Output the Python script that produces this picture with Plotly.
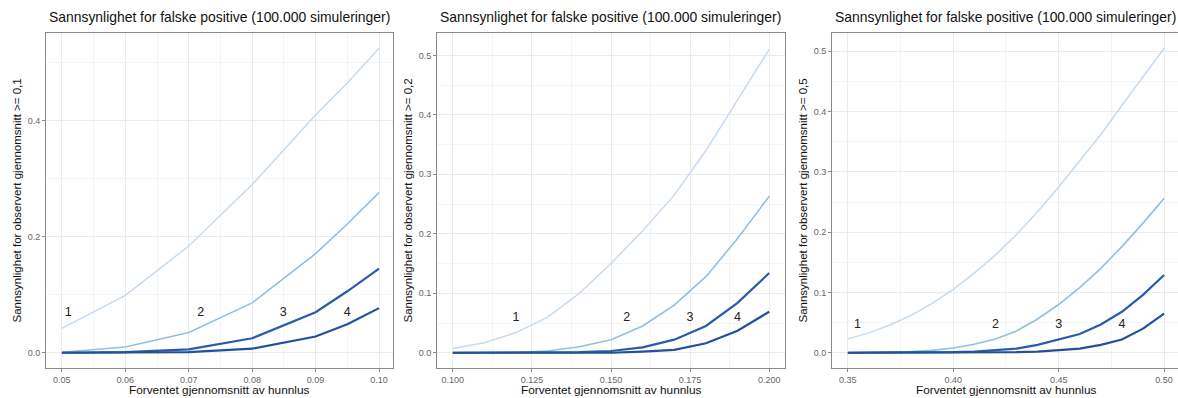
import plotly.graph_objects as go

# ---------------- data ----------------
x_p1 = [0.05, 0.06, 0.07, 0.08, 0.09, 0.095, 0.10]
p1_s1 = [0.042, 0.099, 0.184, 0.290, 0.410, 0.465, 0.525]
p1_s2 = [0.001, 0.010, 0.035, 0.086, 0.171, 0.222, 0.276]
p1_s3 = [0.0, 0.001, 0.006, 0.025, 0.070, 0.106, 0.145]
p1_s4 = [0.0, 0.0, 0.001, 0.007, 0.028, 0.049, 0.077]

x_p2 = [0.10, 0.11, 0.12, 0.13, 0.14, 0.15, 0.16, 0.17, 0.18, 0.19, 0.20]
p2_s1 = [0.007, 0.017, 0.034, 0.060, 0.100, 0.150, 0.205, 0.265, 0.340, 0.425, 0.510]
p2_s2 = [0.0, 0.0, 0.001, 0.003, 0.010, 0.022, 0.045, 0.080, 0.128, 0.192, 0.263]
p2_s3 = [0.0, 0.0, 0.0, 0.0, 0.001, 0.003, 0.009, 0.022, 0.045, 0.084, 0.134]
p2_s4 = [0.0, 0.0, 0.0, 0.0, 0.0, 0.0, 0.002, 0.005, 0.016, 0.037, 0.069]

x_p3 = [0.35, 0.36, 0.37, 0.38, 0.39, 0.40, 0.41, 0.42, 0.43, 0.44, 0.45, 0.46, 0.47, 0.48, 0.49, 0.50]
p3_s1 = [0.023, 0.033, 0.046, 0.062, 0.082, 0.105, 0.132, 0.162, 0.196, 0.234, 0.275, 0.318, 0.362, 0.410, 0.458, 0.505]
p3_s2 = [0.0, 0.0, 0.001, 0.002, 0.004, 0.008, 0.014, 0.023, 0.036, 0.056, 0.080, 0.108, 0.140, 0.176, 0.215, 0.256]
p3_s3 = [0.0, 0.0, 0.0, 0.0, 0.0, 0.001, 0.002, 0.004, 0.007, 0.013, 0.022, 0.031, 0.047, 0.068, 0.096, 0.129]
p3_s4 = [0.0, 0.0, 0.0, 0.0, 0.0, 0.0, 0.0, 0.001, 0.001, 0.002, 0.004, 0.007, 0.013, 0.022, 0.040, 0.065]

series_labels = ["1", "2", "3", "4"]
p1_label_x = [0.051, 0.0719, 0.0849, 0.095]
p2_label_x = [0.120, 0.155, 0.175, 0.190]
p3_label_x = [0.3546, 0.420, 0.450, 0.480]
label_y = [0.068, 0.058, 0.047]

title_text = "Sannsynlighet for falske positive (100.000 simuleringer)"
x_title = "Forventet gjennomsnitt av hunnlus"
y_titles = ["Sannsynlighet for observert gjennomsnitt >= 0,1",
            "Sannsynlighet for observert gjennomsnitt >= 0,2",
            "Sannsynlighet for observert gjennomsnitt >= 0,5"]

p1_xticks = [0.05, 0.06, 0.07, 0.08, 0.09, 0.10]
p1_xticklabels = ["0.05", "0.06", "0.07", "0.08", "0.09", "0.10"]
p2_xticks = [0.100, 0.125, 0.150, 0.175, 0.200]
p2_xticklabels = ["0.100", "0.125", "0.150", "0.175", "0.200"]
p3_xticks = [0.35, 0.40, 0.45, 0.50]
p3_xticklabels = ["0.35", "0.40", "0.45", "0.50"]
p1_yticks = [0.0, 0.2, 0.4]
p1_yticklabels = ["0.0", "0.2", "0.4"]
p23_yticks = [0.0, 0.1, 0.2, 0.3, 0.4, 0.5]
p23_yticklabels = ["0.0", "0.1", "0.2", "0.3", "0.4", "0.5"]

# ---------------- style ----------------
colors = ["#c6dbef", "#92c0df", "#2a5ca8", "#244f9a"]
widths = [1.5, 1.6, 2.2, 2.2]
W, H = 1178, 398
FONT = "Liberation Sans, Arial, sans-serif"


def px(xp):
    return xp / W


def py(yp):
    return 1 - yp / H


x_domains = [[px(46), px(393)], [px(437), px(785)], [px(832), 1.0]]
y_domain = [py(368), py(33)]

panels = [
    dict(x=x_p1, ys=[p1_s1, p1_s2, p1_s3, p1_s4], lx=p1_label_x, ly=label_y[0],
         xr=[0.0475, 0.1022], yr=[-0.02625, 0.55125],
         xt=p1_xticks, xtl=p1_xticklabels, xminor=0.005,
         yt=p1_yticks, ytl=p1_yticklabels, yminor=0.1),
    dict(x=x_p2, ys=[p2_s1, p2_s2, p2_s3, p2_s4], lx=p2_label_x, ly=label_y[1],
         xr=[0.095, 0.205], yr=[-0.0256, 0.5376],
         xt=p2_xticks, xtl=p2_xticklabels, xminor=0.0125,
         yt=p23_yticks, ytl=p23_yticklabels, yminor=0.05),
    dict(x=x_p3, ys=[p3_s1, p3_s2, p3_s3, p3_s4], lx=p3_label_x, ly=label_y[2],
         xr=[0.3425, 0.5066], yr=[-0.02525, 0.53025],
         xt=p3_xticks, xtl=p3_xticklabels, xminor=0.025,
         yt=p23_yticks, ytl=p23_yticklabels, yminor=0.05),
]

fig = go.Figure()
layout = dict(
    width=W, height=H, margin=dict(l=0, r=0, t=0, b=0),
    paper_bgcolor="white", plot_bgcolor="white", showlegend=False,
    font=dict(family=FONT, color="#222"),
)
annotations = []

for i, p in enumerate(panels):
    n = "" if i == 0 else str(i + 1)
    xa, ya = "x" + n, "y" + n
    for k in range(4):
        fig.add_trace(go.Scatter(x=p["x"], y=p["ys"][k], mode="lines",
                                 line=dict(color=colors[k], width=widths[k]),
                                 xaxis=xa, yaxis=ya, hoverinfo="skip"))
    fig.add_trace(go.Scatter(x=p["lx"], y=[p["ly"]] * 4, mode="text",
                             text=series_labels,
                             textfont=dict(size=12.5, color="#222", family=FONT),
                             xaxis=xa, yaxis=ya, hoverinfo="skip"))
    common = dict(showline=True, linecolor="#8a8a8a", linewidth=1, mirror=True,
                  ticks="outside", ticklen=3, tickcolor="#8a8a8a",
                  showgrid=True, gridcolor="#ebebeb", gridwidth=1, zeroline=False,
                  tickfont=dict(size=9, color="#666", family=FONT))
    layout["xaxis" + n] = dict(domain=x_domains[i], anchor=ya, range=p["xr"],
                               tickmode="array", tickvals=p["xt"], ticktext=p["xtl"],
                               ticklabeloverflow="allow",
                               minor=dict(dtick=p["xminor"], tick0=p["xt"][0],
                                          showgrid=True, gridcolor="#f4f4f4", ticks=""),
                               **common)
    layout["yaxis" + n] = dict(domain=y_domain, anchor=xa, range=p["yr"],
                               tickmode="array", tickvals=p["yt"], ticktext=p["ytl"],
                               minor=dict(dtick=p["yminor"], tick0=0,
                                          showgrid=True, gridcolor="#f4f4f4", ticks=""),
                               **common)
    x0, x1 = x_domains[i]
    annotations.append(dict(text=title_text, xref="paper", yref="paper",
                            x=x0 + 1 / W, y=py(17), xanchor="left", yanchor="middle",
                            showarrow=False, font=dict(size=13.9, color="#111", family=FONT)))
    xc = (x0 + x1) / 2 if i < 2 else px(1006)
    annotations.append(dict(text=x_title, xref="paper", yref="paper",
                            x=xc, y=py(390), xanchor="center", yanchor="middle",
                            showarrow=False, font=dict(size=11.8, color="#111", family=FONT)))
    annotations.append(dict(text=y_titles[i], xref="paper", yref="paper",
                            x=x0 - 29 / W, y=(y_domain[0] + y_domain[1]) / 2,
                            xanchor="center", yanchor="middle", textangle=-90,
                            showarrow=False, font=dict(size=11.5, color="#111", family=FONT)))

layout["annotations"] = annotations
fig.update_layout(**layout)
fig.write_html(
    "out.html",
    config={"displayModeBar": False},
    post_script="document.body.style.margin='0';document.body.style.overflow='hidden';",
)
